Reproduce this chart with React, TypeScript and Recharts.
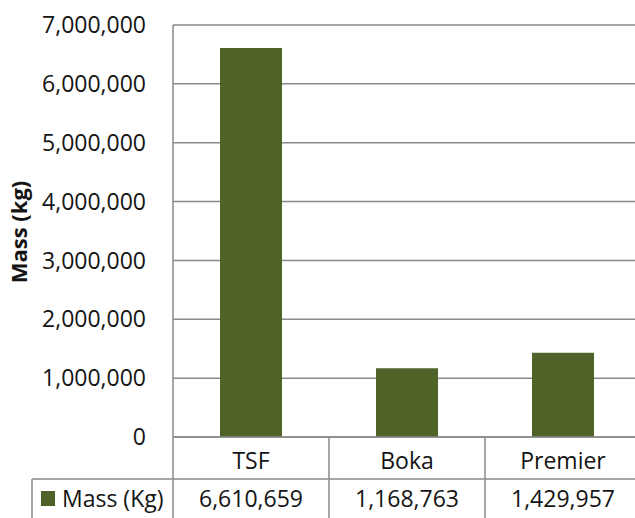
import React from "react";
import {
  BarChart,
  Bar,
  XAxis,
  YAxis,
  CartesianGrid,
  Customized,
} from "recharts";

const categories = ["TSF", "Boka", "Premier"];
const massKg = [6610659, 1168763, 1429957];
const yTicks = [0, 1000000, 2000000, 3000000, 4000000, 5000000, 6000000, 7000000];
const seriesName = "Mass (Kg)";
const axisTitle = "Mass (kg)";

const data = categories.map((name, i) => ({ name, mass: massKg[i] }));

const W = 650;
const H = 518;
const PLOT_LEFT = 173;
const PLOT_RIGHT = 641;
const BAND = (PLOT_RIGHT - PLOT_LEFT) / categories.length;
const FONT = "'Open Sans', sans-serif";
const TEXT = "#141414";
const LINE = "#8a8a8a";
const BAR = "#4f6228";

const fmt = (v: number) => v.toLocaleString("en-US");

function TableTick(props: any) {
  const { x, y, payload } = props;
  const i = payload.index;
  return (
    <g>
      <text x={x} y={y + 23} textAnchor="middle" dominantBaseline="central"
        fontFamily={FONT} fontSize={23} fill={TEXT}>
        {payload.value}
      </text>
      <text x={x} y={y + 61} textAnchor="middle" dominantBaseline="central"
        fontFamily={FONT} fontSize={23} fill={TEXT}>
        {fmt(massKg[i])}
      </text>
      <line x1={x + BAND / 2} x2={x + BAND / 2} y1={y} y2={y + 81} stroke={LINE} strokeWidth={1.5} />
      {i === 0 && (
        <g>
          <line x1={x - BAND / 2} x2={x - BAND / 2} y1={y} y2={y + 81} stroke={LINE} strokeWidth={1.5} />
          <line x1={32} x2={PLOT_RIGHT} y1={y + 42} y2={y + 42} stroke={LINE} strokeWidth={1.5} />
          <line x1={32} x2={32} y1={y + 42} y2={y + 81} stroke={LINE} strokeWidth={1.5} />
          <rect x={41} y={491} width={14} height={15} fill={BAR} />
          <text x={62} y={y + 61} dominantBaseline="central"
            fontFamily={FONT} fontSize={23} fill={TEXT}>
            {seriesName}
          </text>
        </g>
      )}
    </g>
  );
}

export default function App() {
  return (
    <div style={{ position: "fixed", left: 0, top: 0, width: 635, height: 518, overflow: "hidden", background: "#fff" }}>
      <BarChart width={W} height={H} data={data}
        margin={{ top: 25, right: W - PLOT_RIGHT, bottom: 0, left: 0 }}>
        <CartesianGrid vertical={false} stroke={LINE} strokeWidth={1.5} />
        <XAxis dataKey="name" interval={0} tickLine={false} tickSize={0} tickMargin={0}
          height={81} axisLine={{ stroke: LINE, strokeWidth: 1.5 }} tick={<TableTick />} />
        <YAxis width={PLOT_LEFT} domain={[0, 7000000]} ticks={yTicks} tickFormatter={fmt}
          tickLine={false} tickSize={0} tickMargin={27}
          axisLine={{ stroke: LINE, strokeWidth: 1.5 }}
          tick={{ fontFamily: FONT, fontSize: 23, fill: TEXT }} />
        <Bar dataKey="mass" fill={BAR} barSize={62} isAnimationActive={false} />
        <Customized component={() => (
          <text x={18} y={232} transform="rotate(-90 18 232)" textAnchor="middle"
            dominantBaseline="central" fontFamily={FONT} fontSize={22} fontWeight="bold" fill={TEXT}>
            {axisTitle}
          </text>
        )} />
      </BarChart>
    </div>
  );
}
